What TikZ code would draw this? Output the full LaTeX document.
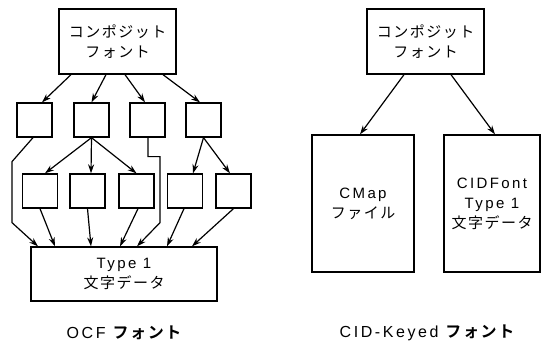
\documentclass[tikz,border=0pt]{standalone}
\usepackage{fontspec}
\setmainfont{Liberation Sans}[LetterSpace=16]
\newfontfamily\jp{Noto Sans CJK JP}[LetterSpace=10,BoldFont={Noto Sans CJK JP Bold}]
\usepackage{tikz}
\usetikzlibrary{arrows.meta}

\tikzset{
  box/.style={draw,line width=1.3pt,inner sep=0pt,align=center},
  small/.style={box,minimum width=35pt,minimum height=34pt},
  lbl/.style={align=center,font=\fontsize{16}{20}\selectfont},
  arr/.style={-{Stealth[length=9pt,width=6pt]},line width=1.2pt}
}

\begin{document}
\begin{tikzpicture}[x=1pt,y=-1pt,font=\fontsize{15}{20}\selectfont]
   \useasboundingbox (0,0) rectangle (541,347);

   % OCF font
   \draw (117.5,41.5) node[box,minimum width=117pt,minimum height=65pt] (comp) {\jp コンポジット\\\jp フォント};
     \draw (34.5,120) node[small] (b1) {};
     \draw (91.5,120) node[small] (b2) {};
     \draw (147.5,120) node[small] (b3) {};
     \draw (203.5,120) node[small] (b4) {};
      \draw (40,191) node[small] (c1) {};
      \draw (87.5,191) node[small] (c2) {};
      \draw (136.5,191) node[small] (c3) {};
      \draw (185,191) node[small] (c4) {};
      \draw (233.5,191) node[small] (c5) {};
   \draw (124,274) node[box,minimum width=186pt,minimum height=54pt] (base) {Type 1\\\jp 文字データ};
   \draw (124,333) node[lbl] (ocf) {OCF {\jp\bfseries フォント}};

      \draw[arr] ([xshift=-46.5pt]comp.south) -- ([xshift=7.5pt]b1.north);
      \draw[arr] ([xshift=-11.5pt]comp.south) -- (b2.north);
      \draw[arr] ([xshift=7.5pt]comp.south) -- ([xshift=-2.5pt]b3.north);
      \draw[arr] ([xshift=45.5pt]comp.south) -- ([xshift=-3.5pt]b4.north);

      \draw[arr] (b2.south) -- ([xshift=5pt]c1.north);
      \draw[arr] (b2.south) -- ([xshift=3.5pt]c2.north);
      \draw[arr] (b2.south) -- (c3.north);
      \draw[arr] (b4.south) -- ([xshift=8pt]c4.north);
      \draw[arr] (b4.south) -- ([xshift=-3.5pt]c5.north);

      \draw[arr] (c1.south) -- ([xshift=-69pt]base.north);
      \draw[arr] (c2.south) -- ([xshift=-33pt]base.north);
      \draw[arr] ([xshift=1.5pt]c3.south) -- ([xshift=-4pt]base.north);
      \draw[arr] ([xshift=-1pt]c4.south) -- ([xshift=43pt]base.north);
      \draw[arr] (c5.south) -- ([xshift=68pt]base.north);

      \draw[arr] ([xshift=-1.5pt]b1.south) -- ++(-21,24) -- ++(0,61) -- ([xshift=-86pt]base.north);
      \draw[arr] ([xshift=0.5pt]b3.south) -- ++(0,19) -- ++(12,0) -- ++(0,66) -- ([xshift=13pt]base.north);

   % CID-Keyed font
   \draw (425.5,41.5) node[box,minimum width=117pt,minimum height=65pt] (comp2) {\jp コンポジット\\\jp フォント};
   \draw (363,203.5) node[box,minimum width=102pt,minimum height=137pt] (cmap) {CMap\\\jp ファイル};
   \draw (492,203.5) node[box,minimum width=96pt,minimum height=137pt] (cid) {CIDFont\\Type 1\\\jp 文字データ};
   \draw (427,333) node[lbl] (cidk) {CID-Keyed {\jp\bfseries フォント}};

      \draw[arr] ([xshift=-21.5pt]comp2.south) -- ([xshift=-3pt]cmap.north);
      \draw[arr] ([xshift=25.5pt]comp2.south) -- ([xshift=3pt]cid.north);

\end{tikzpicture}
\end{document}
